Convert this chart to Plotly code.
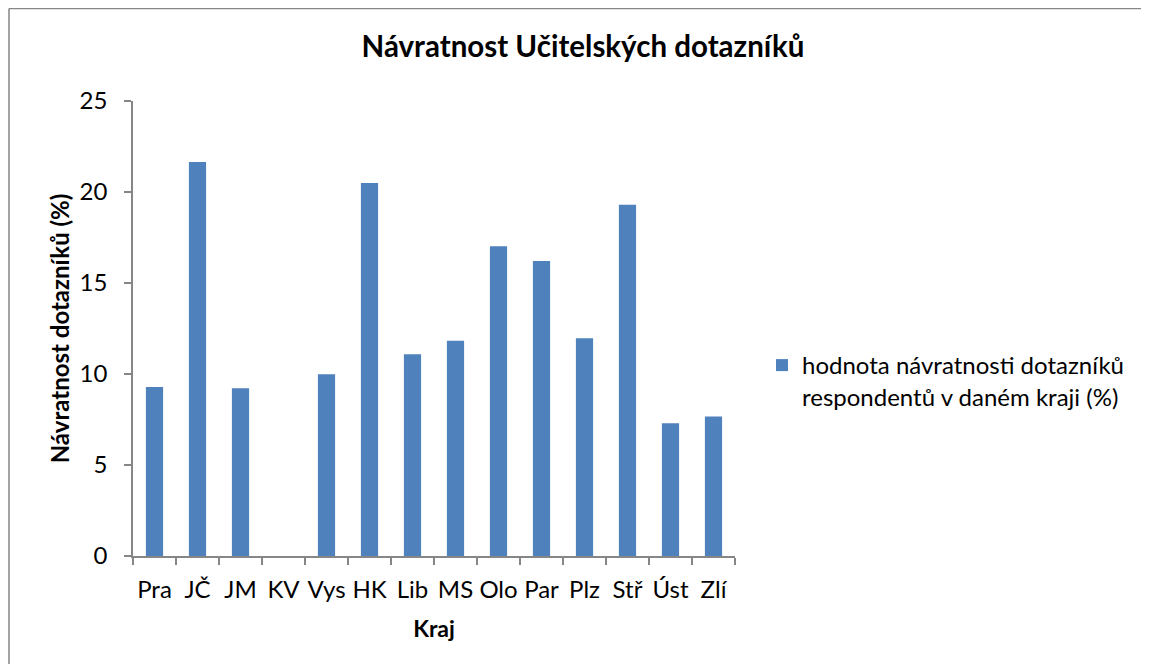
import plotly.graph_objects as go

kraje = ["Pra", "JČ", "JM", "KV", "Vys", "HK", "Lib", "MS", "Olo", "Par", "Plz", "Stř", "Úst", "Zlí"]
navratnost = [9.29, 21.65, 9.22, 0.0, 9.98, 20.49, 11.09, 11.83, 17.02, 16.21, 11.97, 19.30, 7.30, 7.67]

series_name = "hodnota návratnosti dotazníků<br>respondentů v daném kraji (%)"
title_text = "Návratnost Učitelských dotazníků"
y_title = "Návratnost dotazníků (%)"
x_title = "Kraj"

FONT = "Lato"
AXIS_GREY = "#868686"

# page body has an 8px margin; work in window pixels and convert
OFF = 8
W, H = 1149 - OFF, 672 - 2 * OFF
# plot area in window pixels
PX0, PX1, PY0, PY1 = 133, 735, 101, 556
L = PX0 - OFF
R = W - (PX1 - OFF)
T = PY0 - OFF
B = H - (PY1 - OFF)
pw = PX1 - PX0
ph = PY1 - PY0

def px_x(px):
    return (px - PX0) / pw

def px_y(py):
    return (PY1 - py) / ph

fig = go.Figure()
fig.add_trace(go.Bar(
    x=kraje,
    y=navratnost,
    name=series_name,
    marker=dict(color="#4F81BD", line=dict(width=0)),
    showlegend=True,
))

border_line = dict(color=AXIS_GREY, width=1.5)
fig.update_layout(
    width=W, height=H,
    margin=dict(l=L, r=R, t=T, b=B, pad=0),
    paper_bgcolor="white",
    plot_bgcolor="white",
    font=dict(family=FONT, color="#000000", size=24),
    bargap=0.6,
    title=dict(
        text="<b>" + title_text + "</b>",
        x=(583 - OFF) / W, xref="container", xanchor="center",
        y=1 - (47 - OFF) / H, yref="container", yanchor="middle",
        font=dict(family=FONT, size=29.5, color="#000000"),
    ),
    legend=dict(
        x=px_x(762), y=px_y(343), xanchor="left", yanchor="top",
        xref="paper", yref="paper",
        valign="top",
        font=dict(family=FONT, size=24, color="#000000"),
        bgcolor="rgba(0,0,0,0)",
        itemwidth=30,
    ),
    shapes=[
        dict(type="line", xref="paper", yref="paper",
             x0=px_x(OFF + 1), x1=px_x(1250), y0=px_y(OFF + 0.5), y1=px_y(OFF + 0.5),
             line=border_line, layer="below"),
        dict(type="line", xref="paper", yref="paper",
             x0=px_x(OFF + 1), x1=px_x(OFF + 1), y0=px_y(OFF + 0.5), y1=px_y(760),
             line=border_line, layer="below"),
    ],
)

fig.update_xaxes(
    type="category",
    showline=True, linecolor=AXIS_GREY, linewidth=1.5,
    ticks="outside", tickson="boundaries", ticklen=7, tickcolor=AXIS_GREY, tickwidth=1.5,
    tickangle=0,
    ticklabelstandoff=11,
    showgrid=False, zeroline=False,
    tickfont=dict(family=FONT, size=24, color="#000000"),
    title=dict(text="<b>" + x_title + "</b>", standoff=19,
               font=dict(family=FONT, size=23, color="#000000")),
    automargin=False,
)
fig.update_yaxes(
    range=[0, 25], dtick=5, tick0=0,
    showline=True, linecolor=AXIS_GREY, linewidth=1.5,
    ticks="outside", ticklen=7, tickcolor=AXIS_GREY, tickwidth=1.5,
    ticklabelstandoff=12,
    showgrid=False, zeroline=False,
    tickfont=dict(family=FONT, size=24, color="#000000"),
    title=dict(text="<b>" + y_title + "</b>", standoff=3,
               font=dict(family=FONT, size=24, color="#000000")),
    automargin=False,
)

fig.write_html("out.html")
